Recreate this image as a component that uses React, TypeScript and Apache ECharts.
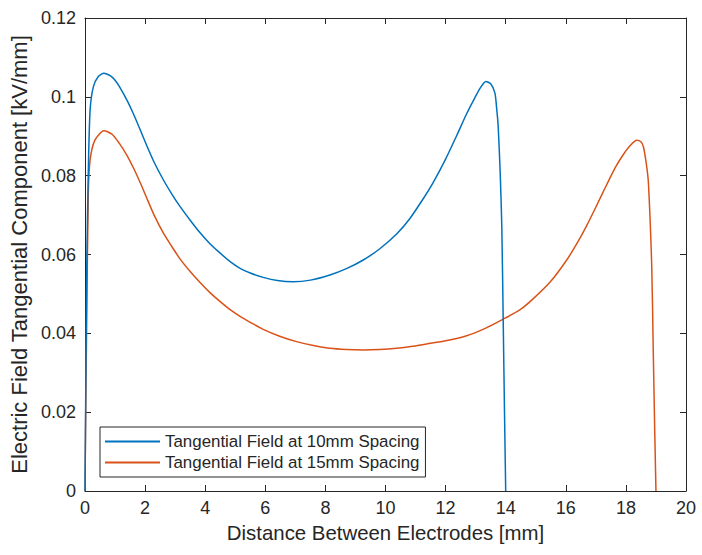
import React, { useEffect, useRef } from "react";
import * as echarts from "echarts";

const xTicks = [0, 2, 4, 6, 8, 10, 12, 14, 16, 18, 20];
const yTicks = [0, 0.02, 0.04, 0.06, 0.08, 0.1, 0.12];

const seriesNames = [
  "Tangential Field at 10mm Spacing",
  "Tangential Field at 15mm Spacing",
];

// distance [mm]
const blueX = [
  0, 0.03, 0.06, 0.11, 0.17, 0.28, 0.45, 0.63, 0.85, 1.0, 1.16, 1.4, 1.61, 1.85, 2.05, 2.3, 2.61, 2.9, 3.16, 3.5,
  3.83, 4.15, 4.49, 4.83, 5.16, 5.5, 5.93, 6.4, 6.93, 7.5, 8.15, 8.7, 9.26, 9.8, 10.37, 10.8, 11.26, 11.59,
  12.0, 12.37, 12.7, 12.92, 13.15, 13.34, 13.5, 13.64, 13.7, 13.75, 13.82, 13.87, 13.92, 13.96, 14.0,
];
// tangential field [kV/mm]
const blueY = [
  0, 0.03, 0.058, 0.081, 0.0967, 0.1026, 0.1052, 0.106, 0.1053, 0.1042, 0.1024, 0.0991, 0.0957, 0.0914, 0.0877,
  0.0834, 0.0789, 0.0752, 0.0722, 0.0687, 0.0655, 0.0628, 0.0604, 0.0582, 0.0565, 0.0553, 0.0542, 0.0534,
  0.0531, 0.0535, 0.0548, 0.0564, 0.0586, 0.0614, 0.0652, 0.069, 0.0742, 0.0783, 0.0842, 0.0902, 0.0957,
  0.099, 0.1022, 0.1039, 0.1033, 0.101, 0.097, 0.0925, 0.08, 0.0671, 0.0417, 0.02, 0,
];

const orangeX = [
  0, 0.03, 0.06, 0.11, 0.17, 0.33, 0.63, 0.9, 1.16, 1.4, 1.61, 1.85, 2.05, 2.3, 2.61, 2.9, 3.16, 3.5, 3.83,
  4.15, 4.49, 4.83, 5.16, 5.5, 5.93, 6.5, 7.04, 7.6, 8.15, 8.7, 9.26, 9.8, 10.37, 10.9, 11.37, 12.0, 12.7,
  13.3, 13.92, 14.48, 14.92, 15.5, 16.03, 16.4, 16.7, 17.05, 17.36, 17.65, 17.91, 18.15, 18.36, 18.5, 18.58,
  18.68, 18.75, 18.86, 18.91, 18.96, 19.0,
];
const orangeY = [
  0, 0.025, 0.045, 0.0756, 0.084, 0.089, 0.0914, 0.0905, 0.088, 0.0851, 0.082, 0.078, 0.0744, 0.07,
  0.0654, 0.0619, 0.0589, 0.0557, 0.0529, 0.0504, 0.0481, 0.046, 0.0443, 0.0428, 0.041, 0.0392, 0.0379,
  0.0369, 0.0362, 0.0359, 0.0358, 0.0359, 0.0362, 0.0367, 0.0373, 0.0381, 0.0394, 0.0412, 0.0436, 0.046,
  0.0488, 0.0532, 0.0586, 0.0632, 0.0674, 0.0728, 0.0777, 0.0821, 0.0853, 0.0877, 0.089, 0.0886, 0.0874, 0.083,
  0.0781, 0.0569, 0.0358, 0.015, 0,
];

const BLUE = "#0072BD";
const ORANGE = "#D95319";
const AXIS = "#262626";

function pairs(xs: number[], ys: number[]) {
  return xs.map((x, i) => [x, ys[i]]);
}

export default function App() {
  const ref = useRef<HTMLDivElement>(null);
  useEffect(() => {
    if (!ref.current) return;
    const chart = echarts.init(ref.current, undefined, { renderer: "svg" });
    const font = "'Liberation Sans', Arial, Helvetica, sans-serif";
    const baseX = {
      type: "value" as const,
      min: xTicks[0],
      max: xTicks[xTicks.length - 1],
      interval: xTicks[1] - xTicks[0],
      axisLine: { show: true, onZero: false, lineStyle: { color: AXIS, width: 1 } },
      axisTick: { show: true, inside: true, length: 6, lineStyle: { color: AXIS } },
      splitLine: { show: false },
    };
    const baseY = {
      type: "value" as const,
      min: yTicks[0],
      max: yTicks[yTicks.length - 1],
      interval: yTicks[1] - yTicks[0],
      axisLine: { show: true, onZero: false, lineStyle: { color: AXIS, width: 1 } },
      axisTick: { show: true, inside: true, length: 6, lineStyle: { color: AXIS } },
      splitLine: { show: false },
    };
    chart.setOption({
      animation: false,
      backgroundColor: "#ffffff",
      textStyle: { fontFamily: font },
      grid: { left: 85, top: 18, right: 16, bottom: 64, containLabel: false },
      xAxis: [
        {
          ...baseX,
          position: "bottom",
          name: "Distance Between Electrodes [mm]",
          nameLocation: "middle",
          nameGap: 32,
          nameTextStyle: { color: AXIS, fontSize: 20.4, fontFamily: font },
          axisLabel: { show: true, color: AXIS, fontSize: 18, margin: 8, fontFamily: font },
        },
        { ...baseX, position: "top", axisLabel: { show: false } },
      ],
      yAxis: [
        {
          ...baseY,
          position: "left",
          name: "Electric Field Tangential Component [kV/mm]",
          nameLocation: "middle",
          nameGap: 53,
          nameTextStyle: { color: AXIS, fontSize: 22, fontFamily: font },
          axisLabel: { show: true, color: AXIS, fontSize: 18, margin: 9, fontFamily: font },
        },
        { ...baseY, position: "right", axisLabel: { show: false } },
      ],
      legend: {
        show: true,
        orient: "vertical",
        left: 100,
        top: 427,
        backgroundColor: "#ffffff",
        borderColor: AXIS,
        borderWidth: 1,
        borderRadius: 0,
        padding: [6, 6, 6, 5],
        itemGap: 4,
        itemWidth: 55,
        itemHeight: 2,
        itemTextGap: 5,
        icon: "rect",
        textStyle: { color: AXIS, fontSize: 16.9, fontFamily: font },
        data: seriesNames,
      },
      series: [
        {
          name: seriesNames[0],
          type: "line",
          data: pairs(blueX, blueY),
          symbol: "none",
          smooth: 0.25,
          lineStyle: { color: BLUE, width: 1.5 },
          itemStyle: { color: BLUE },
          z: 3,
        },
        {
          name: seriesNames[1],
          type: "line",
          data: pairs(orangeX, orangeY),
          symbol: "none",
          smooth: 0.25,
          lineStyle: { color: ORANGE, width: 1.5 },
          itemStyle: { color: ORANGE },
          z: 2,
        },
      ],
    });
    return () => chart.dispose();
  }, []);
  return <div ref={ref} style={{ width: 702, height: 555, position: "absolute", left: 0, top: 0 }} />;
}
